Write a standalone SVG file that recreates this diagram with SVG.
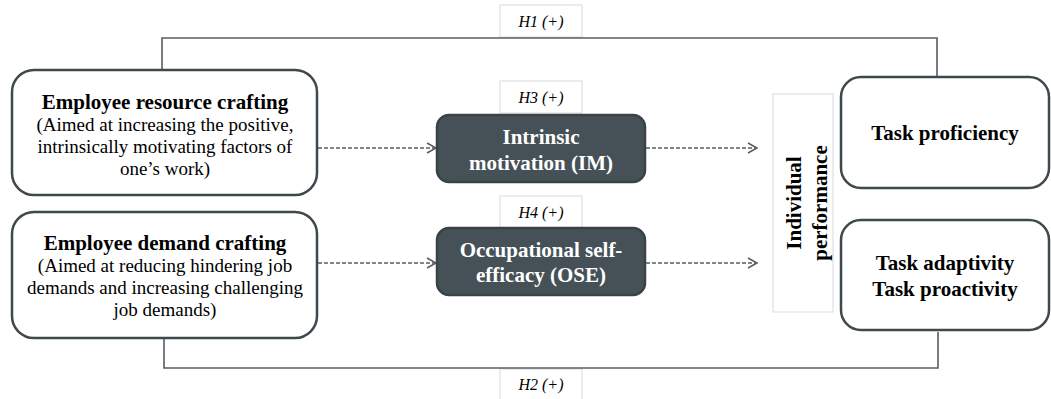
<svg xmlns="http://www.w3.org/2000/svg" width="1051" height="399" viewBox="0 0 1051 399">
<defs>
<marker id="arr" markerWidth="12" markerHeight="12" refX="10" refY="6" orient="auto" markerUnits="userSpaceOnUse">
<path d="M1,1 L10,6 L1,11" fill="none" stroke="#555d62" stroke-width="1.5"/>
</marker>
<style>
.box{fill:#fff;stroke:#3f484d;stroke-width:2.5}
.dark{fill:#465157;stroke:#384247;stroke-width:2.5}
.lbl{fill:#fff;stroke:#d9d9d9;stroke-width:1}
.line{fill:none;stroke:#555d62;stroke-width:1.6}
.dash{fill:none;stroke:#555d62;stroke-width:1.4;stroke-dasharray:4 2}
text{font-family:'Liberation Serif','Times New Roman','DejaVu Serif',serif;text-anchor:middle;fill:#000}
.b{font-weight:bold;font-size:21px}
.s{font-size:19px}
.w{fill:#fff}
.i{font-style:italic;font-size:16px}
</style>
</defs>
<rect x="0" y="0" width="1051" height="399" fill="#fff"/>
<g id="label-h1"><rect class="lbl" x="500" y="5" width="82" height="32"/><text class="i" x="541" y="27">H1 (+)</text></g>
<g id="label-h3"><rect class="lbl" x="500" y="81" width="82" height="32"/><text class="i" x="541" y="103">H3 (+)</text></g>
<g id="label-h4"><rect class="lbl" x="500" y="196" width="82" height="32"/><text class="i" x="541" y="218">H4 (+)</text></g>
<g id="label-h2"><rect class="lbl" x="500" y="369" width="82" height="32"/><text class="i" x="541" y="390">H2 (+)</text></g>
<g id="connectors">
<path class="line" d="M162,70 V38 H937 V77"/>
<path class="line" d="M164,338 V368 H938 V332"/>
<line class="dash" x1="318" y1="148" x2="436" y2="148" marker-end="url(#arr)"/>
<line class="dash" x1="646" y1="148" x2="757" y2="148" marker-end="url(#arr)"/>
<line class="dash" x1="318" y1="263" x2="436" y2="263" marker-end="url(#arr)"/>
<line class="dash" x1="646" y1="263" x2="757" y2="263" marker-end="url(#arr)"/>
</g>
<g id="resource-crafting">
<rect class="box" x="12" y="70" width="305" height="125" rx="22"/>
<text class="b" x="165" y="109">Employee resource crafting</text>
<text class="s" x="165" y="131">(Aimed at increasing the positive,</text>
<text class="s" x="165" y="153">intrinsically motivating factors of</text>
<text class="s" x="165" y="175">one’s work)</text>
</g>
<g id="demand-crafting">
<rect class="box" x="12" y="212" width="305" height="126" rx="22"/>
<text class="b" x="165" y="250">Employee demand crafting</text>
<text class="s" x="165" y="272">(Aimed at reducing hindering job</text>
<text class="s" x="165" y="294">demands and increasing challenging</text>
<text class="s" x="165" y="316">job demands)</text>
</g>
<g id="intrinsic-motivation">
<rect class="dark" x="437" y="115" width="208" height="67" rx="12"/>
<text class="b w" x="541" y="144">Intrinsic</text>
<text class="b w" x="541" y="170">motivation (IM)</text>
</g>
<g id="ose">
<rect class="dark" x="437" y="228" width="208" height="67" rx="12"/>
<text class="b w" x="541" y="257">Occupational self-</text>
<text class="b w" x="541" y="282">efficacy (OSE)</text>
</g>
<g id="individual-performance">
<rect class="lbl" x="773" y="94" width="60" height="218"/>
<text class="b" transform="translate(801,203) rotate(-90)">Individual</text>
<text class="b" transform="translate(827,203) rotate(-90)">performance</text>
</g>
<g id="task-proficiency">
<rect class="box" x="841" y="77" width="208" height="111" rx="20"/>
<text class="b" x="945" y="140">Task proficiency</text>
</g>
<g id="task-adaptivity">
<rect class="box" x="841" y="220" width="208" height="110" rx="20"/>
<text class="b" x="945" y="270">Task adaptivity</text>
<text class="b" x="945" y="296">Task proactivity</text>
</g>
</svg>
